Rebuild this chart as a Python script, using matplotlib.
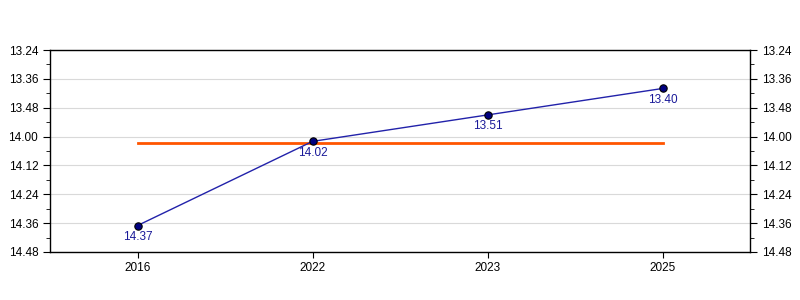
import matplotlib
matplotlib.use('Agg')
import matplotlib.pyplot as plt
from matplotlib.ticker import FuncFormatter, MultipleLocator

plt.rcParams['font.family'] = ['Liberation Sans', 'DejaVu Sans']

# 데이터 (분.초 -> 초)
years = ['2016', '2022', '2023', '2025']
times = ['14.37', '14.02', '13.51', '13.40']
ref_time = 14 * 60 + 2.7  # 기준선 (주황)


def to_sec(t):
    m, s = t.split('.')
    return int(m) * 60 + int(s)


def fmt(v, pos=None):
    v = int(round(v))
    return '%d.%02d' % (v // 60, v % 60)


secs = [to_sec(t) for t in times]
x = list(range(len(years)))

fig = plt.figure(figsize=(8, 3), dpi=100)
ax = fig.add_axes([0.0625, 0.16, 0.875, 0.6733])

ax.plot([x[0], x[-1]], [ref_time, ref_time], color='#ff5500', lw=2, zorder=2)
ax.plot(x, secs, color='#2222aa', lw=1, zorder=3)
ax.scatter(x, secs, s=28, color='#000080', edgecolors='black', linewidths=0.8, zorder=4)
for xi, s, t in zip(x, secs, times):
    ax.annotate(t, (xi, s), xytext=(0, -4), textcoords='offset points',
                ha='center', va='top', fontsize=8.5, color='#1a1a99')

ax.set_xlim(-0.5, len(years) - 0.5)
ax.set_ylim(14 * 60 + 48, 13 * 60 + 24)
ax.yaxis.set_major_locator(MultipleLocator(12))
ax.yaxis.set_minor_locator(MultipleLocator(6))
ax.yaxis.set_major_formatter(FuncFormatter(fmt))
ax.set_xticks(x)
ax.set_xticklabels(years)

ax.grid(axis='y', which='major', color='#d9d9d9', lw=0.8)
ax.set_axisbelow(True)
ax.tick_params(axis='y', which='both', left=True, right=True, labelright=True,
               direction='out', labelsize=8.5)
ax.tick_params(axis='y', which='major', length=5)
ax.tick_params(axis='y', which='minor', length=3)
ax.tick_params(axis='x', length=4, labelsize=8.5)
for sp in ax.spines.values():
    sp.set_linewidth(1)

fig.savefig('out.png', dpi=100)
